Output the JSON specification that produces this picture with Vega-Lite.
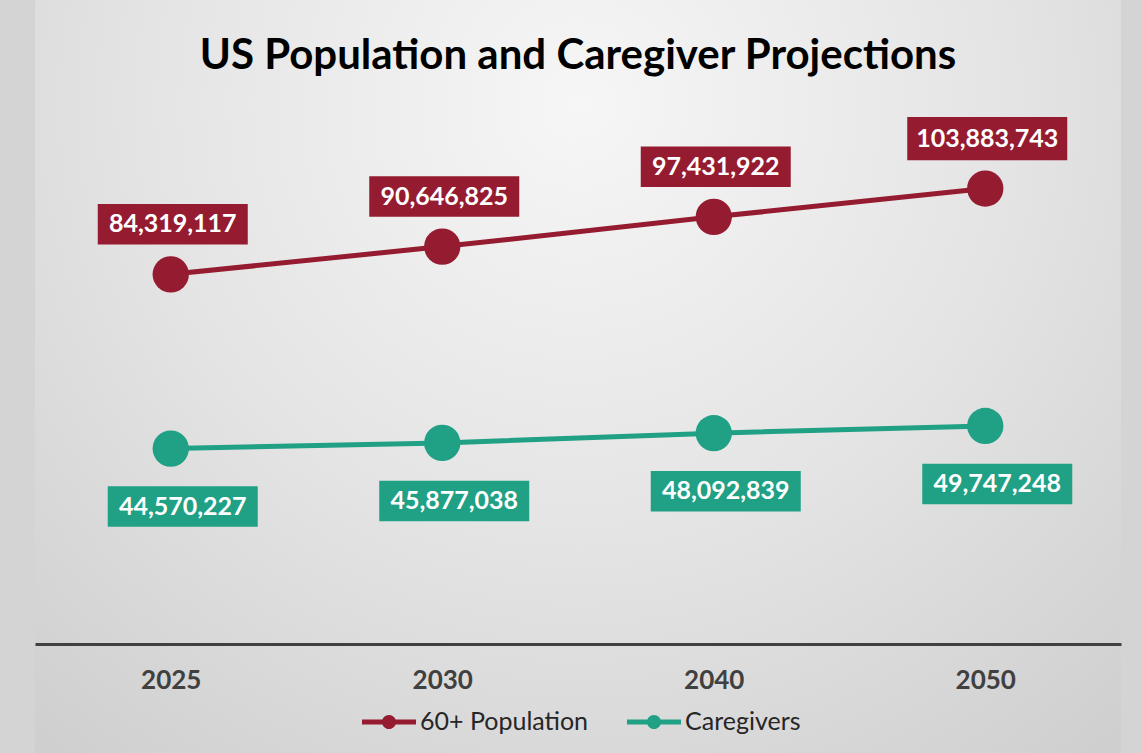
{
  "$schema": "https://vega.github.io/schema/vega-lite/v6.json",
  "width": 1086,
  "height": 753,
  "autosize": {"type": "none"},
  "padding": {"left": 35, "right": 20, "top": 0, "bottom": 0},
  "background": "#d4d4d4",
  "title": {
    "text": "US Population and Caregiver Projections",
    "font": "Lato",
    "fontSize": 42,
    "fontWeight": "bold",
    "color": "#000000",
    "anchor": "middle",
    "frame": "group",
    "offset": -78
  },
  "data": {
    "values": [
      {"year": "2025", "series": "60+ Population", "value": 84319117},
      {"year": "2030", "series": "60+ Population", "value": 90646825},
      {"year": "2040", "series": "60+ Population", "value": 97431922},
      {"year": "2050", "series": "60+ Population", "value": 103883743},
      {"year": "2025", "series": "Caregivers", "value": 44570227},
      {"year": "2030", "series": "Caregivers", "value": 45877038},
      {"year": "2040", "series": "Caregivers", "value": 48092839},
      {"year": "2050", "series": "Caregivers", "value": 49747248}
    ]
  },
  "encoding": {
    "x": {
      "field": "year",
      "type": "ordinal",
      "scale": {"type": "point", "padding": 0.5},
      "axis": {
        "title": null,
        "orient": "bottom",
        "offset": -109,
        "labelAngle": 0,
        "ticks": false,
        "grid": false,
        "domainColor": "#404040",
        "domainWidth": 3,
        "labelFont": "Lato",
        "labelFontSize": 26,
        "labelFontWeight": "bold",
        "labelColor": "#404040",
        "labelPadding": 23
      }
    },
    "y": {
      "field": "value",
      "type": "quantitative",
      "scale": {"domain": [-24863000, 146898000], "nice": false, "zero": false},
      "axis": null
    }
  },
  "layer": [
    {
      "mark": {"type": "line", "strokeWidth": 5},
      "encoding": {
        "color": {
          "field": "series",
          "type": "nominal",
          "scale": {"domain": ["60+ Population", "Caregivers"], "range": ["#951B31", "#20A084"]},
          "legend": {
            "title": null,
            "orient": "none",
            "direction": "horizontal",
            "legendX": 327,
            "legendY": 695,
            "padding": 0,
            "columnPadding": 38,
            "labelOffset": 4,
            "labelLimit": 0,
            "labelFont": "Lato",
            "labelFontSize": 25,
            "labelColor": "#262626",
            "symbolType": "M-1,-0.09L1,-0.09L1,0.09L-1,0.09Z M0.26,0A0.26,0.26 0 1,1 -0.26,0A0.26,0.26 0 1,1 0.26,0Z",
            "symbolSize": 2916,
            "symbolStrokeWidth": 0,
            "encode": {
              "symbols": {
                "update": {
                  "fill": {"scale": "color", "field": "value"},
                  "strokeWidth": {"value": 0},
                  "opacity": {"value": 1}
                }
              }
            }
          }
        }
      }
    },
    {
      "mark": {"type": "point", "filled": true, "size": 1320, "opacity": 1},
      "encoding": {
        "color": {"field": "series", "type": "nominal"}
      }
    },
    {
      "transform": [{"filter": "datum.series === '60+ Population'"}],
      "mark": {
        "type": "point",
        "shape": "M-1,-0.27L1,-0.27L1,0.27L-1,0.27Z",
        "filled": true,
        "opacity": 1,
        "color": "#951B31",
        "yOffset": -50,
        "xOffset": 2
      },
      "encoding": {
        "size": {"condition": {"test": "datum.value >= 100000000", "value": 25600}, "value": 22500}
      }
    },
    {
      "transform": [{"filter": "datum.series === 'Caregivers'"}],
      "mark": {
        "type": "point",
        "shape": "M-1,-0.27L1,-0.27L1,0.27L-1,0.27Z",
        "filled": true,
        "opacity": 1,
        "color": "#20A084",
        "yOffset": 58,
        "xOffset": 12,
        "size": 22500
      }
    },
    {
      "transform": [{"filter": "datum.series === '60+ Population'"}],
      "mark": {
        "type": "text",
        "font": "Lato",
        "fontSize": 25,
        "fontWeight": "bold",
        "color": "#ffffff",
        "baseline": "middle",
        "align": "center",
        "yOffset": -50,
        "xOffset": 2
      },
      "encoding": {"text": {"field": "value", "type": "quantitative", "format": ","}}
    },
    {
      "transform": [{"filter": "datum.series === 'Caregivers'"}],
      "mark": {
        "type": "text",
        "font": "Lato",
        "fontSize": 25,
        "fontWeight": "bold",
        "color": "#ffffff",
        "baseline": "middle",
        "align": "center",
        "yOffset": 58,
        "xOffset": 12
      },
      "encoding": {"text": {"field": "value", "type": "quantitative", "format": ","}}
    }
  ],
  "config": {
    "view": {
      "stroke": null,
      "fill": {
        "gradient": "radial",
        "x1": 0.5, "y1": 0.25, "r1": 0,
        "x2": 0.5, "y2": 0.25, "r2": 0.8,
        "stops": [
          {"offset": 0, "color": "#f6f6f6"},
          {"offset": 0.5, "color": "#e4e4e4"},
          {"offset": 1, "color": "#cdcdcd"}
        ]
      }
    }
  }
}
